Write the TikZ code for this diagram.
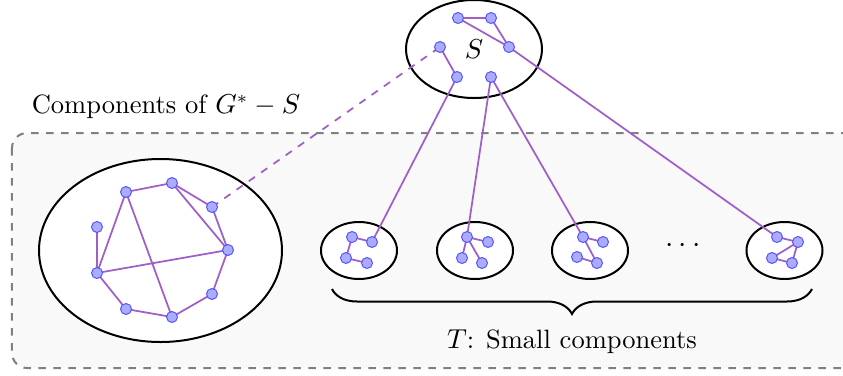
\documentclass[tikz,border=0pt]{standalone}
\usetikzlibrary{shapes.geometric,decorations.pathreplacing}

\definecolor{edgecol}{RGB}{160,95,200}
\definecolor{vtxfill}{RGB}{172,172,255}
\definecolor{vtxline}{RGB}{85,85,255}

\tikzset{
  comp/.style={ellipse, draw=black, thick, fill=white, inner sep=0pt},
  edge/.style={edgecol, line width=0.7pt},
  vtx/.style={draw=vtxline, fill=vtxfill, line width=0.4pt},
  txt/.style={font=\fontsize{10.6pt}{13pt}\selectfont}
}

\begin{document}
\begin{tikzpicture}[x=0.4pt,y=-0.4pt]
\useasboundingbox (0,0) rectangle (843,375);
% box of components
\draw[gray, dashed, thick, fill=gray!5, rounded corners=6pt] (12,133) rectangle (880,368);
\node[txt] (lbl) at (166,107) {Components of $G^*-S$};

% ellipses
\node[comp, txt, minimum width=54.4pt, minimum height=39.2pt] (S) at (474,49) {$S$};
\node[comp, minimum width=97.2pt, minimum height=73.2pt] (big) at (160.5,250.5) {};
\node[comp, minimum width=30.4pt, minimum height=22.8pt] (c1) at (359,250.5) {};
\node[comp, minimum width=30.4pt, minimum height=22.8pt] (c2) at (475,250.5) {};
\node[comp, minimum width=30.4pt, minimum height=22.8pt] (c3) at (590,250.5) {};
\node[comp, minimum width=30.4pt, minimum height=22.8pt] (c4) at (784.5,250.5) {};
\node[font=\fontsize{12pt}{14pt}\selectfont] (dots) at (683,246) {$\cdots$};

% vertices of S
\coordinate (s1) at (458,18);
\coordinate (s2) at (491,18);
\coordinate (s3) at (509,47);
\coordinate (s4) at (440,47);
\coordinate (s5) at (457,77);
\coordinate (s6) at (491,77);

% big component
\coordinate (g1) at (126,192);
\coordinate (g2) at (172,183);
\coordinate (g3) at (212,207);
\coordinate (g4) at (228,250);
\coordinate (g5) at (212,294);
\coordinate (g6) at (172,317);
\coordinate (g7) at (126,309);
\coordinate (g8) at (97,273);
\coordinate (g9) at (97,227);

% small components
\coordinate (a1) at (352,237);
\coordinate (a2) at (372,242);
\coordinate (a3) at (346,258);
\coordinate (a4) at (367,263);
\coordinate (b1) at (467,237);
\coordinate (b2) at (488,242);
\coordinate (b3) at (462,258);
\coordinate (b4) at (482,263);
\coordinate (d1) at (583,237);
\coordinate (d2) at (603,242);
\coordinate (d3) at (577,257);
\coordinate (d4) at (597,263);
\coordinate (e1) at (777,237);
\coordinate (e2) at (798,242);
\coordinate (e3) at (772,258);
\coordinate (e4) at (792,263);

\draw[edge] (s1) -- (s2) -- (s3) -- (s1);
\draw[edge] (s4) -- (s5);
\draw[edge] (g1) -- (g2) -- (g3) -- (g4) -- (g5) -- (g6) -- (g7) -- (g8) -- (g9);
\draw[edge] (g2) -- (g4);
\draw[edge] (g8) -- (g1) -- (g6);
\draw[edge] (g8) -- (g4);
\draw[edge] (a2) -- (a1) -- (a3) -- (a4);
\draw[edge] (b2) -- (b1) -- (b3);
\draw[edge] (b1) -- (b4);
\draw[edge] (d2) -- (d1) -- (d4) -- (d3);
\draw[edge] (e1) -- (e2) -- (e4) -- (e3) -- (e2);
% links to S
\draw[edge, dashed] (g3) -- (s4);
\draw[edge] (s5) -- (a2);
\draw[edge] (s6) -- (b1);
\draw[edge] (s6) -- (d1);
\draw[edge] (s3) -- (e1);

\foreach \v in {s1,s2,s3,s4,s5,s6,g1,g2,g3,g4,g5,g6,g7,g8,g9,
  a1,a2,a3,a4,b1,b2,b3,b4,d1,d2,d3,d4,e1,e2,e3,e4}{
  \draw[vtx] (\v) circle (2.2pt);
}

\draw[thick, decorate, decoration={brace, mirror, amplitude=10pt}] (332,289) -- (812,289);
\node[txt] (tlbl) at (572,342) {$T$: Small components};
\end{tikzpicture}
\end{document}
